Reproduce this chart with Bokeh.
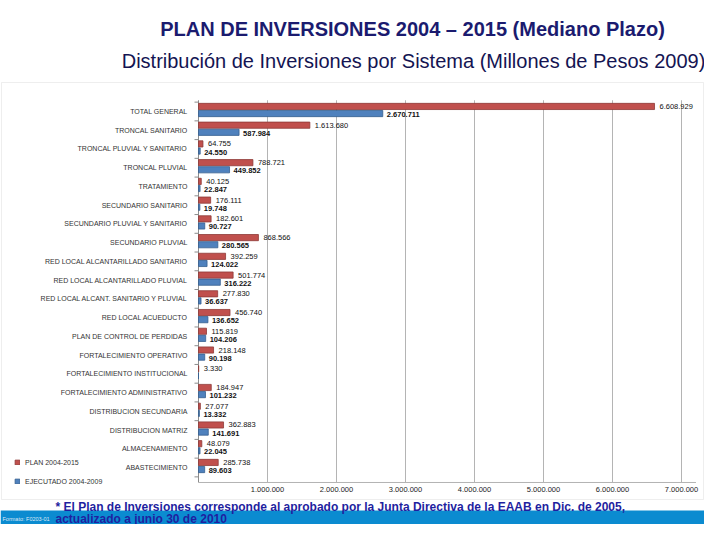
import math
from bokeh.plotting import figure
from bokeh.models import (Range1d, Label, BoxAnnotation, Legend, LegendItem, ColumnDataSource)
from bokeh.core.properties import value
from bokeh.embed import file_html
from bokeh.resources import INLINE

# ---------------- data ----------------
categories = ["TOTAL GENERAL", "TRONCAL SANITARIO", "TRONCAL PLUVIAL Y SANITARIO",
              "TRONCAL PLUVIAL", "TRATAMIENTO", "SECUNDARIO SANITARIO",
              "SECUNDARIO PLUVIAL Y SANITARIO", "SECUNDARIO PLUVIAL",
              "RED LOCAL ALCANTARILLADO SANITARIO", "RED LOCAL ALCANTARILLADO PLUVIAL",
              "RED LOCAL ALCANT. SANITARIO Y PLUVIAL", "RED LOCAL ACUEDUCTO",
              "PLAN DE CONTROL DE PERDIDAS", "FORTALECIMIENTO OPERATIVO",
              "FORTALECIMIENTO INSTITUCIONAL", "FORTALECIMIENTO ADMINISTRATIVO",
              "DISTRIBUCION SECUNDARIA", "DISTRIBUCION MATRIZ", "ALMACENAMIENTO",
              "ABASTECIMIENTO"]
plan = [6608929, 1613680, 64755, 788721, 40125, 176111, 182601, 868566, 392259, 501774,
        277830, 456740, 115819, 218148, 3330, 184947, 27077, 362883, 48079, 285738]
ejecutado = [2670711, 587984, 24550, 449852, 22847, 19748, 90727, 280565, 124022, 316222,
             36637, 136652, 104206, 90198, 0, 101232, 13332, 141691, 22045, 89603]
series_names = ["PLAN 2004-2015", "EJECUTADO 2004-2009"]
x_ticks = [1000000, 2000000, 3000000, 4000000, 5000000, 6000000, 7000000]

title_text = "PLAN DE INVERSIONES 2004 \u2013 2015 (Mediano Plazo)"
subtitle_text = "Distribuci\u00f3n de Inversiones por Sistema (Millones de Pesos 2009)"
note_line1 = "* El Plan de Inversiones corresponde al aprobado por la Junta Directiva de la EAAB en Dic. de 2005,"
note_line2 = "actualizado a junio 30 de 2010"
format_text = "Formato: F0203-01"


def fmt(v):
    return f"{v:,}".replace(",", ".")


# ---------------- layout ----------------
W, H = 704, 524
n = len(categories)
ypos = [n - 1 - i for i in range(n)]          # TOTAL GENERAL on top

# frame covers whole canvas; ranges chosen so that the chart sits like the reference
PX_PER_UNIT_X = 69 / 1_000_000
ORIGIN_X = 198
ROW0_Y = 467                                  # canvas y of the bottom row centre
ROW_PX = (ROW0_Y - 111) / (n - 1)
x_start = -ORIGIN_X / PX_PER_UNIT_X
x_end = (W - ORIGIN_X) / PX_PER_UNIT_X
y_start = (ROW0_Y - H) / ROW_PX
y_end = ROW0_Y / ROW_PX

RED, RED_LINE = "#c0504d", "#8e3a37"
BLUE, BLUE_LINE = "#4f81bd", "#36608f"
TXT_FONT = value("Liberation Sans")

p = figure(width=W, height=H, output_backend="svg", toolbar_location=None,
           x_range=Range1d(x_start, x_end), y_range=Range1d(y_start, y_end),
           min_border=0, x_axis_type=None, y_axis_type=None)
p.outline_line_color = None
p.grid.visible = False
p.background_fill_color = "white"
p.border_fill_color = "white"

RED_OFF, BLUE_OFF, BAR_H = 0.27, -0.11, 0.33
axis_bottom = -0.8
axis_top = n - 1 + 0.6

src = ColumnDataSource(dict(
    y=ypos, cat=categories, plan=plan, ejec=ejecutado,
    y_plan=[v + RED_OFF for v in ypos], y_ejec=[v + BLUE_OFF for v in ypos],
    plan_lbl=[fmt(v) for v in plan],
    ejec_lbl=[fmt(v) if v > 0 else "" for v in ejecutado],
))

# panel border and footer band (screen units, frame == canvas)
p.add_layout(BoxAnnotation(left=1, right=W - 1, top=H - 82, bottom=H - 499,
                           left_units="screen", right_units="screen",
                           top_units="screen", bottom_units="screen",
                           fill_color="white", fill_alpha=1, line_color="#c8c8c8",
                           line_width=1, level="underlay"))

# grid lines and axis lines
p.segment(x0=x_ticks, x1=x_ticks, y0=axis_bottom, y1=axis_top,
          line_color="#b4b4b4", line_width=1)
p.segment(x0=0, x1=0, y0=axis_bottom, y1=axis_top, line_color="#8c8c8c", line_width=1)
p.segment(x0=0, x1=x_ticks[-1] * 1.03, y0=axis_bottom, y1=axis_bottom,
          line_color="#b4b4b4", line_width=1)
p.ray(x=0, y=[k - 0.5 for k in range(n + 1)], angle=math.pi, length=4,
      length_units="screen", line_color="#8c8c8c", line_width=1)

r_plan = p.hbar(y="y_plan", left=0, right="plan", height=BAR_H,
                fill_color=RED, line_color=RED_LINE, line_width=0.8, source=src)
r_ejec = p.hbar(y="y_ejec", left=0, right="ejec", height=BAR_H,
                fill_color=BLUE, line_color=BLUE_LINE, line_width=0.8, source=src)

# value labels
p.text(x="plan", y="y_plan", text="plan_lbl", source=src,
       x_offset=5, text_baseline="middle", text_align="left",
       text_font=TXT_FONT, text_font_size="7.5px", text_color="#111111")
p.text(x="ejec", y="y_ejec", text="ejec_lbl", source=src,
       x_offset=4, y_offset=1, text_baseline="middle", text_align="left",
       text_font=TXT_FONT, text_font_size="7.5px", text_color="#111111",
       text_font_style="bold")

# category labels (y axis)
p.text(x=0, y="y", text="cat", source=src, x_offset=-11,
       text_baseline="middle", text_align="right",
       text_font=TXT_FONT, text_font_size="7px", text_color="#333333")

# x tick labels
p.text(x=x_ticks, y=axis_bottom, text=[fmt(t) for t in x_ticks], y_offset=5,
       text_baseline="top", text_align="center",
       text_font=TXT_FONT, text_font_size="7.5px", text_color="#222222")

# legend (bottom-left)
legend = Legend(items=[LegendItem(label=series_names[0], renderers=[r_plan]),
                       LegendItem(label=series_names[1], renderers=[r_ejec])],
                location=(14, 39), orientation="vertical",
                background_fill_alpha=0, border_line_color=None,
                label_text_font="Liberation Sans", label_text_font_size="7px",
                label_text_color="#333333", glyph_width=6, glyph_height=6,
                label_standoff=5, spacing=11, padding=0, margin=0,
                label_height=8)
p.add_layout(legend)

# footer band
p.add_layout(BoxAnnotation(left=0, right=W, top=H - 510, bottom=0,
                           left_units="screen", right_units="screen",
                           top_units="screen", bottom_units="screen",
                           fill_color="#0b8bd0", fill_alpha=1, line_color=None))

# titles
p.add_layout(Label(x=412, y=H - 28, x_units="screen", y_units="screen",
                   text=title_text, text_align="center", text_baseline="middle",
                   text_font="Liberation Sans", text_font_style="bold",
                   text_font_size="20px", text_color="#1b1b6f"))
p.add_layout(Label(x=413, y=H - 60, x_units="screen", y_units="screen",
                   text=subtitle_text, text_align="center", text_baseline="middle",
                   text_font="Liberation Sans", text_font_size="20px",
                   text_color="#141452"))

# footnote
p.add_layout(Label(x=55, y=H - 506, x_units="screen", y_units="screen",
                   text=note_line1, text_align="left", text_baseline="middle",
                   text_font="Liberation Sans", text_font_style="bold",
                   text_font_size="12px", text_color="#1f1fa0"))
p.add_layout(Label(x=55, y=H - 518, x_units="screen", y_units="screen",
                   text=note_line2, text_align="left", text_baseline="middle",
                   text_font="Liberation Sans", text_font_style="bold",
                   text_font_size="12px", text_color="#1f1fa0"))
p.add_layout(Label(x=2, y=H - 518, x_units="screen", y_units="screen",
                   text=format_text, text_align="left", text_baseline="middle",
                   text_font="Liberation Sans", text_font_size="5.5px",
                   text_color="#dde8f5"))

open("out.html", "w").write(file_html(p, INLINE))
